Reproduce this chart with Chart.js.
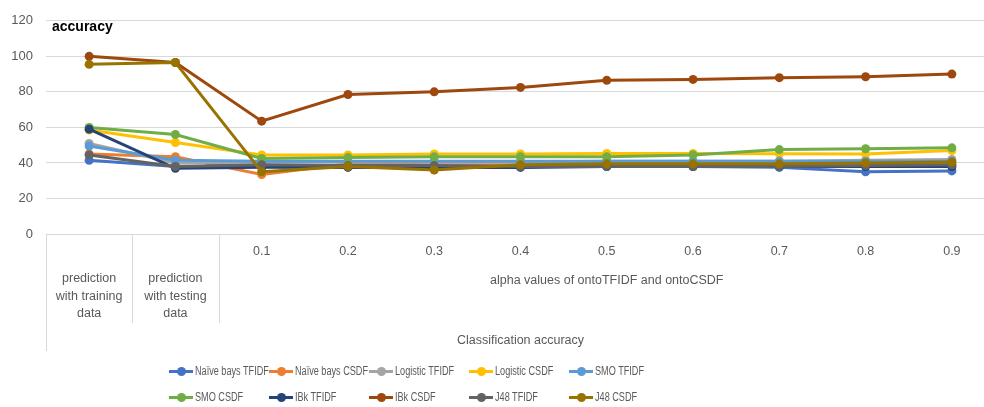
<!DOCTYPE html>
<html><head><meta charset="utf-8">
<script src="https://cdn.jsdelivr.net/npm/chart.js@4.4.0/dist/chart.umd.min.js"></script>
<style>
html,body{margin:0;padding:0;background:#fff;overflow:hidden;width:984px;height:407px;}
#wrap{position:relative;width:1000px;height:407px;}
canvas{display:block;}
#legend{position:absolute;left:0;top:0;width:984px;height:407px;pointer-events:none;font-family:"Liberation Sans",Arial,sans-serif;font-size:12px;color:#595959;}
.item{position:absolute;display:flex;align-items:center;white-space:nowrap;height:12px;}
.mk{position:relative;width:24px;height:10px;margin-right:2px;flex:none;}
.mk .ln{position:absolute;left:0;right:0;top:3.5px;height:3px;}
.mk .dt{position:absolute;left:7.5px;top:0.5px;width:9px;height:9px;border-radius:50%;}
.tx{display:inline-block;transform:scaleX(0.76);transform-origin:0 50%;}
</style></head>
<body><div id="wrap"><canvas id="c" width="1000" height="407"></canvas><div id="legend"></div></div>
<script>
// ---- data ----
const categories = ['prediction with training data', 'prediction with testing data', '0.1', '0.2', '0.3', '0.4', '0.5', '0.6', '0.7', '0.8', '0.9'];
const categoryLines = [['prediction', 'with training', 'data'], ['prediction', 'with testing', 'data']];
const groupLabel = 'alpha values of ontoTFIDF and ontoCSDF';
const axisTitle = 'Classification accuracy';
const yTitle = 'accuracy';
const yTicks = [0, 20, 40, 60, 80, 100, 120];

const seriesNames = ['Naïve bays TFIDF', 'Naïve bays CSDF', 'Logistic TFIDF', 'Logistic CSDF', 'SMO TFIDF', 'SMO CSDF', 'IBk TFIDF', 'IBk CSDF', 'J48 TFIDF', 'J48 CSDF'];
const naiveBaysTFIDF = [41.5, 38, 38, 38, 38, 38, 38, 38, 37.5, 35, 35.5];
const naiveBaysCSDF  = [45, 43.5, 33.5, 39.5, 39, 39, 39, 39, 39, 39, 39];
const logisticTFIDF  = [51, 40, 40.5, 40.5, 40.5, 40.5, 41, 41, 41, 41.5, 42];
const logisticCSDF   = [58.5, 51.5, 44.5, 44.5, 45, 45, 45.3, 45.3, 45.2, 45, 47];
const smoTFIDF       = [49.5, 41.5, 41, 41, 41, 41, 41, 41, 41, 41, 41];
const smoCSDF        = [60, 56, 42.5, 43, 43.5, 43.5, 43.5, 44.5, 47.5, 48, 48.5];
const ibkTFIDF       = [59, 37, 37.5, 37.5, 37.5, 37.5, 38, 38, 38, 38, 38];
const ibkCSDF        = [100, 96.5, 63.5, 78.5, 80, 82.5, 86.5, 87, 88, 88.5, 90];
const j48TFIDF       = [44.5, 38, 39, 38.5, 38.5, 38, 38, 38, 38, 38.5, 39];
const j48CSDF        = [95.5, 96.5, 35, 38, 36, 39, 39.5, 39.5, 39.5, 40, 40.5];
const seriesValues = [naiveBaysTFIDF, naiveBaysCSDF, logisticTFIDF, logisticCSDF, smoTFIDF, smoCSDF, ibkTFIDF, ibkCSDF, j48TFIDF, j48CSDF];

// ---- style ----
const colors = ['#4472C4', '#ED7D31', '#A5A5A5', '#FFC000', '#5B9BD5', '#70AD47', '#264478', '#9E480E', '#636363', '#997300'];
const axisFont = '"Liberation Sans", Arial, sans-serif';
const textColor = '#595959';
const gridColor = '#D9D9D9';

const datasets = seriesNames.map((name, i) => ({
  label: name,
  data: seriesValues[i],
  borderColor: colors[i],
  backgroundColor: colors[i],
  pointBackgroundColor: colors[i],
  pointBorderColor: colors[i],
  borderWidth: 3,
  pointRadius: 4.5,
  pointBorderWidth: 0,
  tension: 0,
  order: seriesNames.length - i
}));

const extraLabels = {
  id: 'extraLabels',
  afterDraw(chart) {
    const ctx = chart.ctx;
    const ca = chart.chartArea;
    const xs = chart.scales.x;
    const step = xs.getPixelForValue(1) - xs.getPixelForValue(0);
    ctx.save();
    ctx.strokeStyle = gridColor;
    ctx.lineWidth = 1;
    const b1 = xs.getPixelForValue(0) + step / 2;
    const b2 = xs.getPixelForValue(1) + step / 2;
    ctx.beginPath();
    ctx.moveTo(Math.round(ca.left) + 0.5, ca.bottom); ctx.lineTo(Math.round(ca.left) + 0.5, ca.bottom + 117);
    ctx.moveTo(Math.round(b1) + 0.5, ca.bottom); ctx.lineTo(Math.round(b1) + 0.5, ca.bottom + 89);
    ctx.moveTo(Math.round(b2) + 0.5, ca.bottom); ctx.lineTo(Math.round(b2) + 0.5, ca.bottom + 89);
    ctx.stroke();
    ctx.fillStyle = textColor;
    ctx.font = '12.5px ' + axisFont;
    ctx.textAlign = 'center';
    ctx.textBaseline = 'middle';
    categoryLines.forEach((lines, i) => {
      const cx = xs.getPixelForValue(i);
      lines.forEach((t, j) => ctx.fillText(t, cx, ca.bottom + 45 + j * 17.5));
    });
    ctx.fillText(groupLabel, (b2 + ca.right) / 2, ca.bottom + 47);
    ctx.fillText(axisTitle, (ca.left + ca.right) / 2, ca.bottom + 107);
    ctx.font = 'bold 14px ' + axisFont;
    ctx.fillStyle = '#000000';
    ctx.textAlign = 'left';
    ctx.fillText(yTitle, 52, 27);
    ctx.restore();
  }
};

const chart = new Chart(document.getElementById('c'), {
  type: 'line',
  data: { labels: categories, datasets },
  options: {
    responsive: false,
    animation: false,
    layout: { padding: { left: 0, top: 20, right: 5, bottom: 0 } },
    plugins: { legend: { display: false }, tooltip: { enabled: false } },
    scales: {
      x: {
        offset: true,
        grid: { display: false, drawTicks: false },
        border: { display: false },
        ticks: {
          autoSkip: false, maxRotation: 0, padding: 10,
          color: textColor, font: { family: axisFont, size: 12.5 },
          callback: (v, i) => (i < 2 ? '' : categories[i])
        },
        afterFit: s => { s.height = 173; }
      },
      y: {
        min: 0, max: 120,
        afterBuildTicks: s => { s.ticks = yTicks.map(v => ({ value: v })); },
        grid: { color: gridColor, drawTicks: false, lineWidth: 1 },
        border: { display: false },
        ticks: { padding: 13, color: textColor, font: { family: axisFont, size: 13 } },
        afterFit: s => { s.width = 46; }
      }
    }
  },
  plugins: [extraLabels]
});

const legend = document.getElementById('legend');
chart.data.datasets.forEach((ds, i) => {
  const col = i % 5, row = Math.floor(i / 5);
  const it = document.createElement('div');
  it.className = 'item';
  it.style.left = (169 + col * 100) + 'px';
  it.style.top = (365 + row * 26) + 'px';
  it.innerHTML = '<span class="mk"><span class="ln" style="background:' + ds.borderColor + '"></span><span class="dt" style="background:' + ds.borderColor + '"></span></span>';
  const tx = document.createElement('span');
  tx.className = 'tx';
  tx.textContent = ds.label;
  it.appendChild(tx);
  legend.appendChild(it);
});
</script>
</body></html>
